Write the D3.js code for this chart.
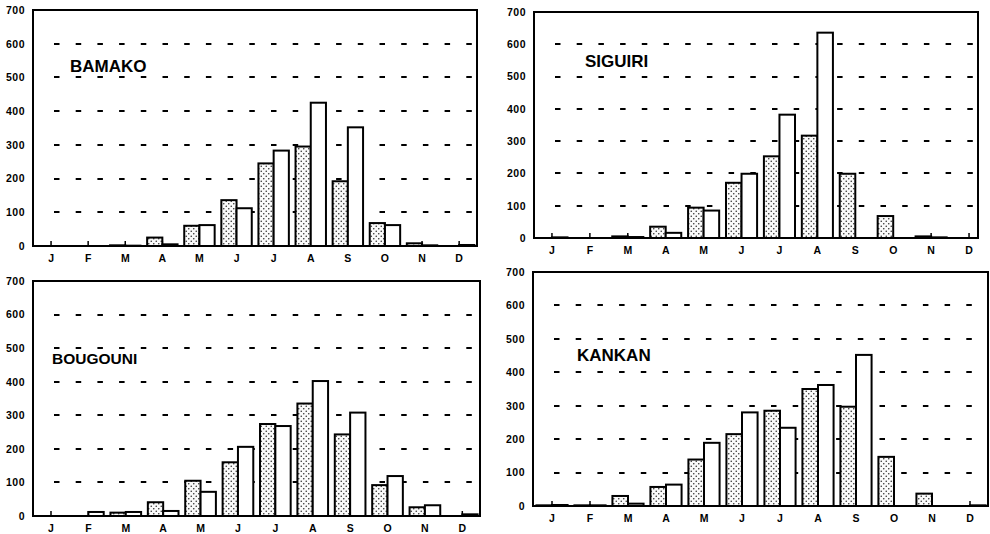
<!DOCTYPE html>
<html><head><meta charset="utf-8">
<script src="https://cdn.jsdelivr.net/npm/d3@7"></script>
<style>body{margin:0;background:#fff}svg{display:block}</style></head>
<body><svg id="c" width="990" height="534"></svg>
<script>
// ---- data ----
const months = ["J","F","M","A","M","J","J","A","S","O","N","D"];
const yTicks = [0,100,200,300,400,500,600,700];
const gridValues = [100,200,300,400,500,600];
const stations = ["BAMAKO","SIGUIRI","BOUGOUNI","KANKAN"];
const bamakoDotted   = [0,0,2,25,60,136,245,295,192,68,8,0];
const bamakoWhite    = [0,0,1,5,62,112,283,425,352,62,2,3];
const siguiriDotted  = [0,0,5,35,94,171,253,317,199,68,5,0];
const siguiriWhite   = [2,0,3,16,85,199,382,636,0,0,2,0];
const bougouniDotted = [0,0,10,41,105,160,274,335,243,92,26,0];
const bougouniWhite  = [0,12,12,15,72,206,268,402,308,119,32,5];
const kankanDotted   = [2,2,30,57,139,215,285,350,297,147,37,0];
const kankanWhite    = [3,2,7,64,189,280,234,362,452,0,0,2];

// ---- layout (positions only) ----
const layout = [
  {x0:33,  x1:477, yTop:10,  y0:246, b0:32.5, b1:477.7, tx:70,  ty:72,  fs:17},
  {x0:534, x1:978, yTop:12,  y0:238, b0:533,  b1:988,   tx:585, ty:67,  fs:17},
  {x0:33,  x1:480, yTop:281, y0:516, b0:32.3, b1:481,   tx:52,  ty:364, fs:15.5},
  {x0:533, x1:988, yTop:272, y0:506, b0:533,  b1:989,   tx:577, ty:361, fs:17}
];
const dotted = [bamakoDotted, siguiriDotted, bougouniDotted, kankanDotted];
const white  = [bamakoWhite, siguiriWhite, bougouniWhite, kankanWhite];

const svg = d3.select("#c");
const defs = svg.append("defs");
const pat = defs.append("pattern").attr("id","stip").attr("patternUnits","userSpaceOnUse")
  .attr("width",5).attr("height",5);
pat.append("rect").attr("width",5).attr("height",5).attr("fill","#fafafa");
pat.append("circle").attr("cx",1.25).attr("cy",1.25).attr("r",0.8).attr("fill","#333");
pat.append("circle").attr("cx",3.75).attr("cy",3.75).attr("r",0.8).attr("fill","#333");

const font = "Arial, 'Liberation Sans', Helvetica, sans-serif";

layout.forEach((L, p) => {
  const g = svg.append("g");
  const y = d3.scaleLinear().domain([0,700]).range([L.y0, L.yTop]);
  const x = d3.scaleBand().domain(d3.range(12)).range([L.b0, L.b1]).paddingInner(0);
  const bw = x.bandwidth()*0.41;

  // gridlines (dashed)
  g.selectAll("line.grid").data(gridValues).join("line")
    .attr("x1", L.x0+21).attr("x2", L.x1-4)
    .attr("y1", d=>Math.round(y(d))).attr("y2", d=>Math.round(y(d)))
    .attr("stroke","#000").attr("stroke-width",2)
    .attr("stroke-dasharray","5.5,16.2");

  // y axis labels
  const ya = g.append("g").attr("transform",`translate(${L.x0},0)`)
    .call(d3.axisLeft(y).tickValues(yTicks).tickSize(0).tickPadding(8));
  ya.select(".domain").remove();
  ya.selectAll("text").attr("font-family",font).attr("font-weight","bold")
    .attr("font-size",10.5).attr("letter-spacing","0.5px").attr("fill","#000");

  // x axis: inward ticks + month labels
  const xa = g.append("g").attr("transform",`translate(0,${L.y0})`)
    .call(d3.axisBottom(x).tickFormat(i=>months[i]).tickSizeInner(-5).tickSizeOuter(0).tickPadding(9));
  xa.select(".domain").remove();
  xa.selectAll("line").attr("stroke","#000").attr("stroke-width",1.5);
  xa.selectAll("text").attr("font-family",font).attr("font-weight","bold")
    .attr("font-size",10.5).attr("fill","#000");

  // bars
  const rows = d3.range(12);
  g.selectAll("rect.d").data(rows).join("rect")
    .attr("x", i=>x(i)+x.bandwidth()/2-bw).attr("width", bw)
    .attr("y", i=>y(dotted[p][i])).attr("height", i=>L.y0-y(dotted[p][i]))
    .attr("fill","url(#stip)").attr("stroke","#000").attr("stroke-width",2)
    .attr("display", i=>dotted[p][i]>0?null:"none");
  g.selectAll("rect.w").data(rows).join("rect")
    .attr("x", i=>x(i)+x.bandwidth()/2).attr("width", bw)
    .attr("y", i=>y(white[p][i])).attr("height", i=>L.y0-y(white[p][i]))
    .attr("fill","#fff").attr("stroke","#000").attr("stroke-width",2)
    .attr("display", i=>white[p][i]>0?null:"none");

  // frame
  g.append("path")
    .attr("d", `M${L.x0},${L.y0}V${L.yTop}H${L.x1}V${L.y0}Z`)
    .attr("fill","none").attr("stroke","#000").attr("stroke-width",2);

  // title
  g.append("text").attr("x",L.tx).attr("y",L.ty).text(stations[p])
    .attr("font-family",font).attr("font-weight","bold").attr("font-size",L.fs).attr("fill","#000");
});
</script></body></html>
